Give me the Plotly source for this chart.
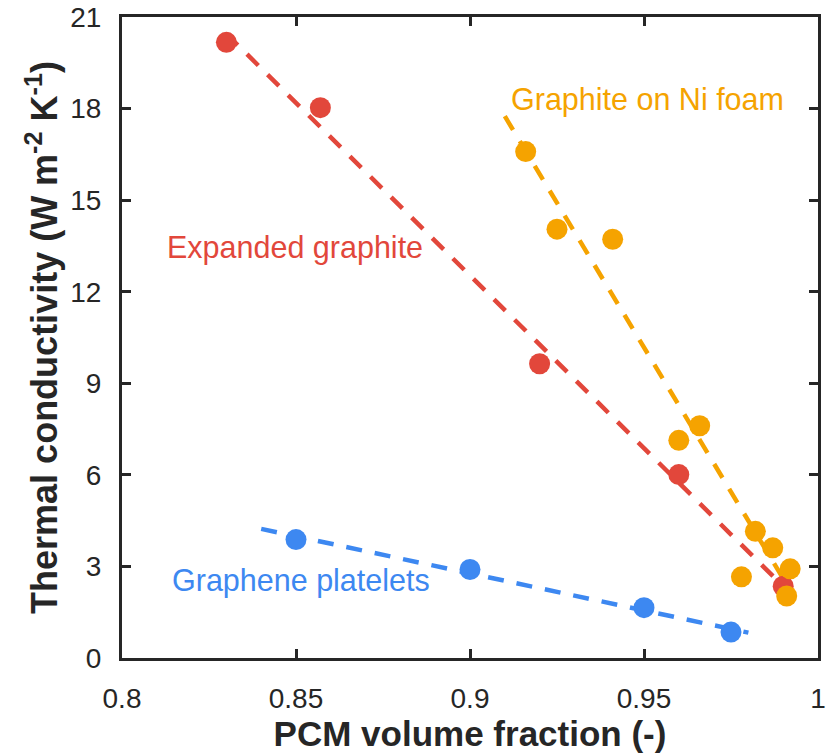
import plotly.graph_objects as go

eg_x = [0.830, 0.857, 0.920, 0.960, 0.990]
eg_y = [20.17, 18.03, 9.64, 6.01, 2.35]

ni_x = [0.916, 0.925, 0.941, 0.960, 0.966, 0.982, 0.987, 0.978, 0.992, 0.991]
ni_y = [16.59, 14.05, 13.72, 7.13, 7.61, 4.15, 3.61, 2.66, 2.92, 2.03]

gp_x = [0.850, 0.900, 0.950, 0.975]
gp_y = [3.88, 2.90, 1.65, 0.85]

# dashed trend lines (end points)
eg_fit_x = [0.830, 0.990]
eg_fit_y = [20.45, 2.35]
ni_fit_x = [0.910, 0.990]
ni_fit_y = [17.75, 2.60]
gp_fit_x = [0.840, 0.980]
gp_fit_y = [4.23, 0.83]

x_ticks = [0.8, 0.85, 0.9, 0.95, 1.0]
x_ticktext = ["0.8", "0.85", "0.9", "0.95", "1"]
y_ticks = [0, 3, 6, 9, 12, 15, 18, 21]

RED = "#e2473b"
ORANGE = "#f5a300"
BLUE = "#3d88f1"
FONT = "Liberation Sans, Arial, sans-serif"
AXIS = "#262626"

fig = go.Figure()

# dashed lines first, markers on top
for fx, fy, c in [
    (eg_fit_x, eg_fit_y, RED),
    (ni_fit_x, ni_fit_y, ORANGE),
    (gp_fit_x, gp_fit_y, BLUE),
]:
    fig.add_trace(
        go.Scatter(
            x=fx, y=fy, mode="lines",
            line=dict(color=c, width=4.5, dash="16px,13px"),
            hoverinfo="skip",
        )
    )

for sx, sy, c, name in [
    (eg_x, eg_y, RED, "Expanded graphite"),
    (ni_x, ni_y, ORANGE, "Graphite on Ni foam"),
    (gp_x, gp_y, BLUE, "Graphene platelets"),
]:
    fig.add_trace(
        go.Scatter(
            x=sx, y=sy, mode="markers", name=name,
            marker=dict(color=c, size=21, line=dict(width=0)),
        )
    )

# series labels
for txt, ax_, ay_, c in [
    ("Expanded graphite", 0.8497, 13.45, RED),
    ("Graphite on Ni foam", 0.9511, 18.3, ORANGE),
    ("Graphene platelets", 0.8514, 2.55, BLUE),
]:
    fig.add_annotation(
        x=ax_, y=ay_, text=txt, showarrow=False,
        xanchor="center", yanchor="middle",
        font=dict(family=FONT, size=30.5, color=c),
    )

fig.update_layout(
    width=836, height=755,
    margin=dict(l=122, r=18, t=17, b=97),
    plot_bgcolor="white", paper_bgcolor="white",
    showlegend=False,
    font=dict(family=FONT, color=AXIS),
)

fig.update_xaxes(
    range=[0.8, 1.0], automargin=False, ticklabeloverflow="allow",
    tickvals=x_ticks, ticktext=x_ticktext,
    ticks="inside", ticklen=9, tickwidth=2.5, tickcolor=AXIS,
    showline=True, linewidth=3, linecolor=AXIS, mirror="ticks",
    showgrid=False, zeroline=False,
    tickfont=dict(size=28, color=AXIS), ticklabelstandoff=13,
    title=dict(text="<b>PCM volume fraction (-)</b>",
               font=dict(size=35, color=AXIS), standoff=2),
)
fig.update_yaxes(
    range=[0, 21], automargin=False, ticklabeloverflow="allow",
    tickvals=y_ticks,
    ticks="inside", ticklen=9, tickwidth=2.5, tickcolor=AXIS,
    showline=True, linewidth=3, linecolor=AXIS, mirror="ticks",
    showgrid=False, zeroline=False,
    tickfont=dict(size=28, color=AXIS), ticklabelstandoff=12,
    title=dict(text="<b>Thermal conductivity (W m<sup>-2</sup> K<sup>-1</sup>)</b>",
               font=dict(size=36, color=AXIS), standoff=2),
)

# drop the default 8px body margin so the figure sits at the page corner
fig.write_html(
    "out.html",
    config={"displayModeBar": False},
    post_script="document.body.style.margin = '0';",
)
